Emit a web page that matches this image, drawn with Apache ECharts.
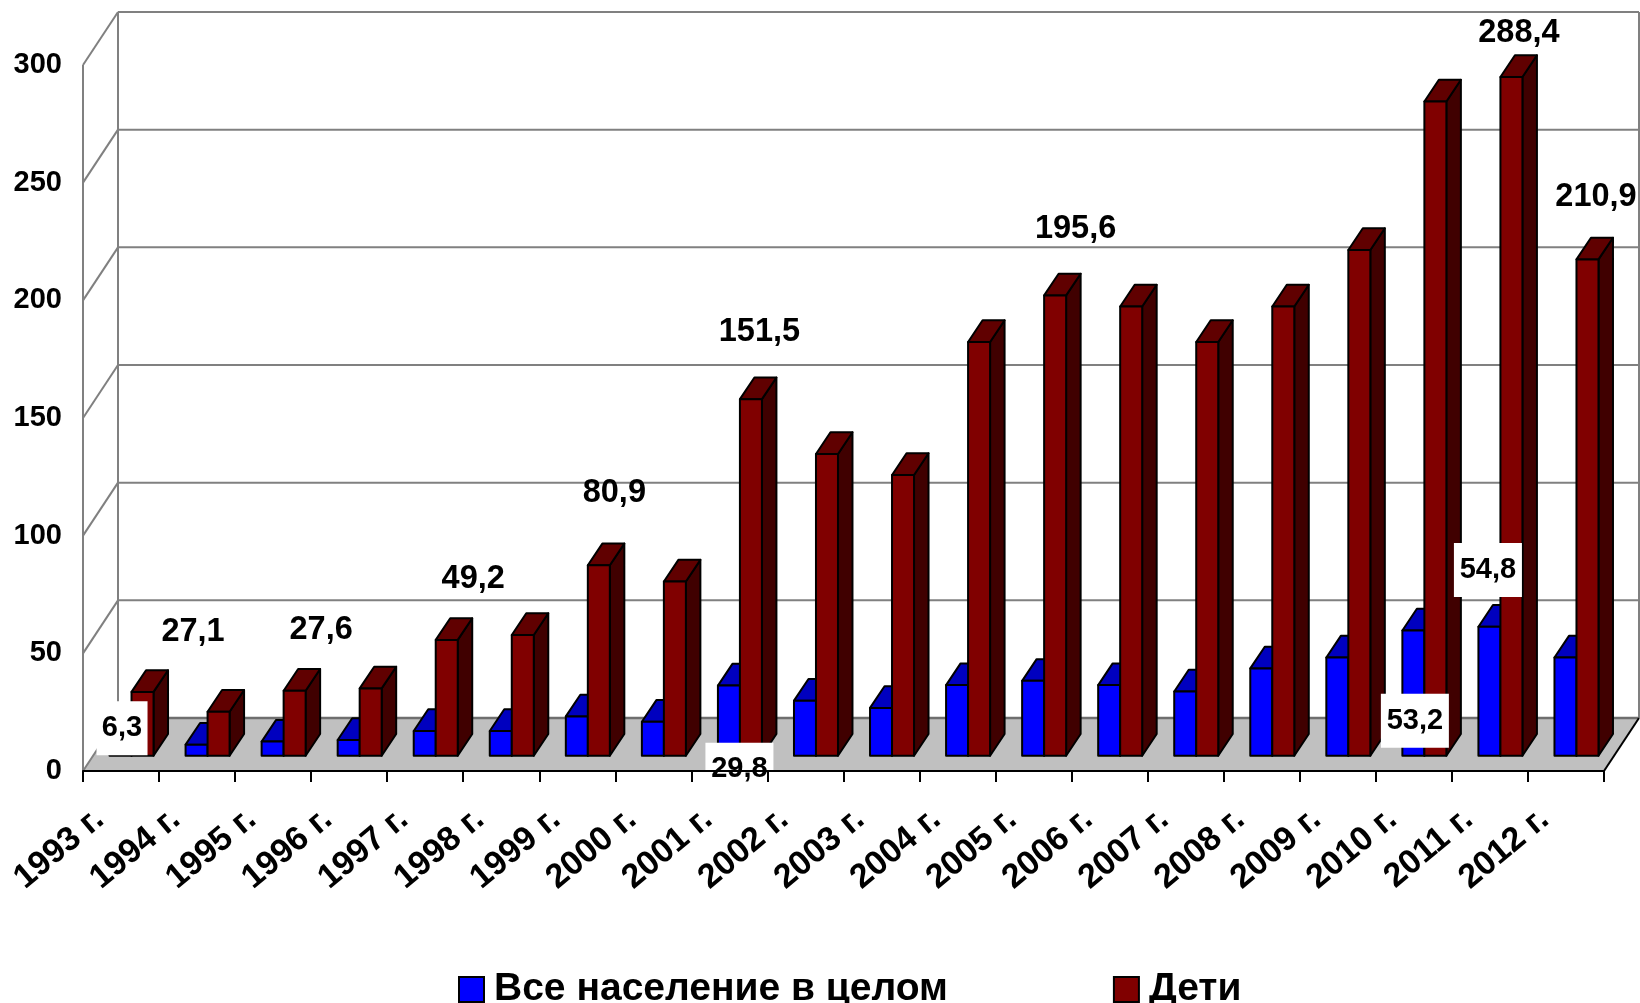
<!DOCTYPE html>
<html>
<head>
<meta charset="utf-8">
<script src="https://cdn.jsdelivr.net/npm/echarts@6/dist/echarts.min.js"></script>
<style>html,body{margin:0;padding:0;background:#fff}#chart{width:1640px;height:1003px}</style>
</head>
<body>
<div id="chart"></div>
<script>
// Incidence by year: whole population against children.
const years = ['1993 г.','1994 г.','1995 г.','1996 г.','1997 г.','1998 г.','1999 г.','2000 г.','2001 г.','2002 г.',
  '2003 г.','2004 г.','2005 г.','2006 г.','2007 г.','2008 г.','2009 г.','2010 г.','2011 г.','2012 г.'];
const populationValues = [6.3,4.7,6,6.7,10.5,10.5,16.7,14.4,29.8,23.4,20.3,30,31.8,30,27.3,37.1,41.7,53.2,54.8,41.7];
const childrenValues = [27.1,18.7,27.6,28.6,49.2,51.3,80.9,74,151.5,128.2,119.3,175.8,195.6,190.9,175.8,190.9,214.9,278,288.4,210.9];
const valueTicks = [0,50,100,150,200,250,300];
const populationName = 'Все население в целом';
const childrenName = 'Дети';

// Hand-placed value labels: [category, shift right, shift down], relative to the bar top.
const populationLabels = [[0,1,-28,51,54],[8,10,68,68,29],[17,1,75,68,54],[18,-2,-72,68,54]];
const childrenLabels = [[0,72,-75],[2,48,-76],[4,48,-76],[6,37,-88],[8,30,-82],[12,42,-82],[18,29,-59],[19,30,-78]];

// Oblique projection of the box: depth of the whole floor and of a single bar.
const FLOOR_DX = 35, FLOOR_DY = -53;
const BAR_DX = 14.5, BAR_DY = -21.7, BAR_LIFT = 15.3, BAR_SHIFT = 10.5, BAR_W = 22;
const WALL = '#808080', INK = '#000';
const FONT = '"Liberation Sans", Arial, sans-serif';

function renderBox(params, api, slot, front, top, side) {
  const i = api.value(0), v = api.value(1);
  const base = api.coord([i, 0]), head = api.coord([i, v]);
  const x0 = base[0] + BAR_SHIFT + slot * BAR_W, x1 = x0 + BAR_W;
  const yb = base[1] - BAR_LIFT, yt = head[1] - BAR_LIFT;
  const line = {stroke: INK, lineWidth: 2, lineJoin: 'round'};
  return {type: 'group', children: [
    {type: 'polygon', shape: {points: [[x1,yb],[x1+BAR_DX,yb+BAR_DY],[x1+BAR_DX,yt+BAR_DY],[x1,yt]]}, style: {fill: side, ...line}},
    {type: 'polygon', shape: {points: [[x0,yt],[x1,yt],[x1+BAR_DX,yt+BAR_DY],[x0+BAR_DX,yt+BAR_DY]]}, style: {fill: top, ...line}},
    {type: 'rect', shape: {x: x0, y: yt, width: BAR_W, height: yb - yt}, style: {fill: front, ...line}}
  ]};
}

function renderWalls(params, api) {
  const r = params.coordSys, left = r.x, right = r.x + r.width;
  const y0 = api.coord([0, 0])[1], yMax = api.coord([0, valueTicks[valueTicks.length - 1]])[1];
  const wall = {stroke: WALL, lineWidth: 2, fill: null};
  const kids = [
    {type: 'polygon', shape: {points: [[left,y0],[right,y0],[right+FLOOR_DX,y0+FLOOR_DY],[left+FLOOR_DX,y0+FLOOR_DY]]}, style: {fill: '#c0c0c0', stroke: null}},
    {type: 'line', shape: {x1: left+FLOOR_DX, y1: y0+FLOOR_DY, x2: right+FLOOR_DX, y2: y0+FLOOR_DY}, style: {...wall, stroke: '#6e6e6e', lineWidth: 2.5}},
    {type: 'line', shape: {x1: left, y1: y0, x2: left, y2: yMax}, style: wall},
    {type: 'line', shape: {x1: left+FLOOR_DX, y1: y0+FLOOR_DY, x2: left+FLOOR_DX, y2: yMax+FLOOR_DY}, style: wall},
    {type: 'line', shape: {x1: right+FLOOR_DX, y1: y0+FLOOR_DY, x2: right+FLOOR_DX, y2: yMax+FLOOR_DY}, style: wall},
    {type: 'line', shape: {x1: left, y1: y0, x2: left+FLOOR_DX, y2: y0+FLOOR_DY}, style: wall},
    {type: 'line', shape: {x1: right, y1: y0, x2: right+FLOOR_DX, y2: y0+FLOOR_DY}, style: {...wall, stroke: INK}}
  ];
  valueTicks.slice(1).forEach(t => {
    const y = api.coord([0, t])[1];
    kids.push({type: 'line', shape: {x1: left, y1: y, x2: left+FLOOR_DX, y2: y+FLOOR_DY}, style: wall});
    kids.push({type: 'line', shape: {x1: left+FLOOR_DX, y1: y+FLOOR_DY, x2: right+FLOOR_DX, y2: y+FLOOR_DY}, style: wall});
  });
  return {type: 'group', children: kids};
}

const fmt = v => v.toFixed(1).replace('.', ',');

function renderLabel(params, api) {
  const [i, v, dx, dy, w, h, size] = [0,1,2,3,4,5,6].map(k => api.value(k));
  const p = api.coord([i, v]);
  const x = p[0] + dx, y = p[1] + dy;
  const kids = [];
  if (w > 0) kids.push({type: 'rect', shape: {x: x - w / 2, y: y - (h > 40 ? h / 2 : 26), width: w, height: h}, style: {fill: '#fff'}});
  kids.push({type: 'text', style: {x, y, text: fmt(v), align: 'center', verticalAlign: 'middle',
    fill: INK, fontFamily: FONT, fontWeight: 'bold', fontSize: size}});
  return {type: 'group', children: kids};
}

const labelRows = [
  ...childrenLabels.map(([i, dx, dy]) => [i, childrenValues[i], dx, dy, 0, 0, 32.5]),
  ...populationLabels.map(([i, dx, dy, w, h]) => [i, populationValues[i], dx, dy, w, h, 29])
];

const chart = echarts.init(document.getElementById('chart'), null, {renderer: 'canvas'});
chart.setOption({
  animation: false,
  backgroundColor: '#fff',
  grid: {left: 83, right: 36, top: 65, bottom: 232, containLabel: false},
  legend: {
    data: [populationName, childrenName], left: 453, top: 965, itemGap: 165,
    itemWidth: 25, itemHeight: 25, icon: 'rect',
    textStyle: {fontFamily: FONT, fontWeight: 'bold', fontSize: 39, color: INK, padding: [0, 0, 0, 5]}
  },
  xAxis: {
    type: 'category', data: years, z: 6,
    axisLine: {show: true, onZero: false, lineStyle: {color: INK, width: 2}},
    axisTick: {show: true, length: 11, lineStyle: {color: INK, width: 2}},
    axisLabel: {interval: 0, rotate: 40, margin: 26, padding: [0, 28, 0, 0], color: INK,
      fontFamily: FONT, fontWeight: 'bold', fontSize: 34, hideOverlap: false}
  },
  yAxis: {
    type: 'value', min: 0, max: 300, interval: 50,
    axisLine: {show: false}, axisTick: {show: false}, splitLine: {show: false},
    axisLabel: {margin: 21, color: INK, fontFamily: FONT, fontWeight: 'bold', fontSize: 29}
  },
  series: [
    {type: 'custom', name: 'walls', z: 1, silent: true, data: [[0, 0]], encode: {x: 0, y: 1}, renderItem: renderWalls},
    {type: 'custom', name: populationName, z: 2, itemStyle: {color: '#0000ff', borderColor: INK, borderWidth: 2},
      data: populationValues.map((v, i) => [i, v]), encode: {x: 0, y: 1},
      renderItem: (p, a) => renderBox(p, a, -1, '#0000ff', '#0000bf', '#000080')},
    {type: 'custom', name: childrenName, z: 2, itemStyle: {color: '#800000', borderColor: INK, borderWidth: 2},
      data: childrenValues.map((v, i) => [i, v]), encode: {x: 0, y: 1},
      renderItem: (p, a) => renderBox(p, a, 0, '#800000', '#600000', '#400000')},
    {type: 'custom', name: 'labels', z: 5, silent: true, data: labelRows, encode: {x: 0, y: 1}, renderItem: renderLabel}
  ]
});
</script>
</body>
</html>
